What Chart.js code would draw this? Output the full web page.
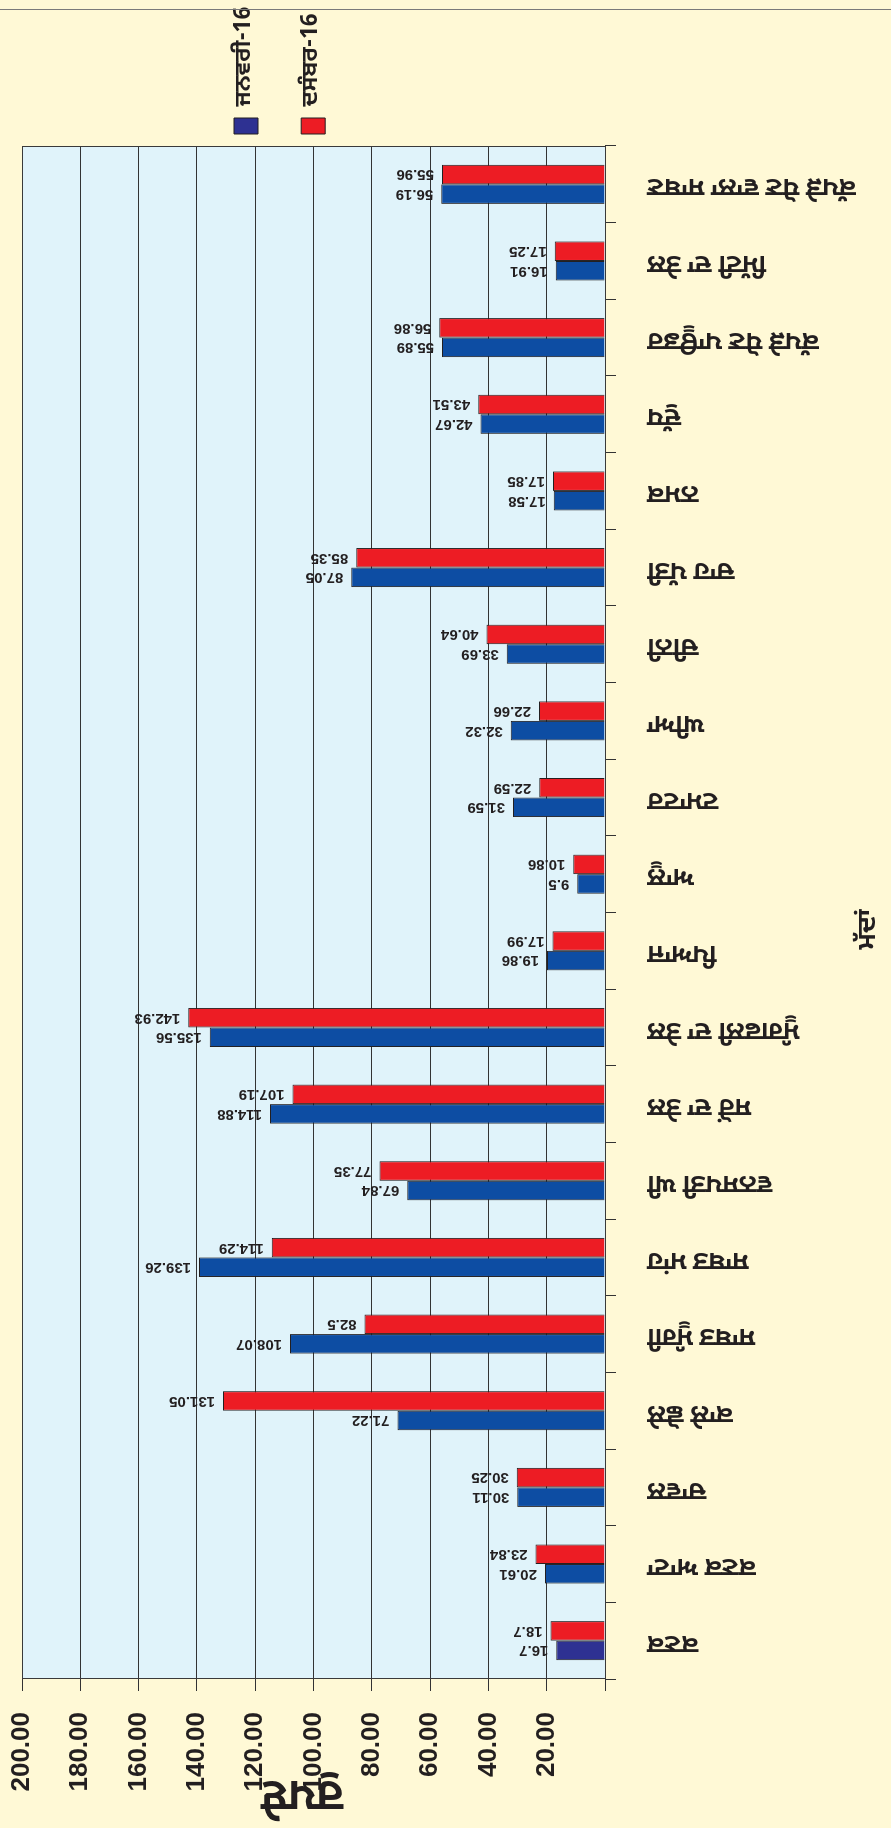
<!DOCTYPE html>
<html>
<head>
<meta charset="utf-8">
<script src="https://cdn.jsdelivr.net/npm/chart.js@4.4.1/dist/chart.umd.min.js"></script>
<style>
  html, body { margin: 0; padding: 0; background: #fff9d6; }
  body { width: 891px; height: 1828px; overflow: hidden; position: relative; }
  /* the chart is laid out lying on its side, then turned upright */
  #wrap { position: absolute; left: 0; top: 0; width: 1828px; height: 891px;
          transform-origin: 0 0; transform: translateY(1828px) rotate(-90deg); }
  #topline { position: absolute; left: 0; top: 9px; width: 891px; height: 1px; background: #7a7a7a; }
</style>
</head>
<body>
<div id="wrap"><canvas id="chart" width="1828" height="891"></canvas></div>
<div id="topline"></div>
<script>
const categories = [
    'ਕਣਕ', 'ਕਣਕ ਆਟਾ', 'ਚਾਵਲ', 'ਕਾਲੇ ਛੋਲੇ', 'ਸਾਬਤ ਮੂੰਗੀ', 'ਸਾਬਤ ਮਾਂਹ', 'ਵਨਸਪਤੀ ਘੀ',
    'ਸਰੋਂ ਦਾ ਤੇਲ', 'ਮੂੰਗਫਲੀ ਦਾ ਤੇਲ', 'ਪਿਆਜ', 'ਆਲੂ', 'ਟਮਾਟਰ', 'ਘੀਆ', 'ਚੀਨੀ',
    'ਚਾਹ ਪੱਤੀ', 'ਨਮਕ', 'ਦੁੱਧ', 'ਕੱਪੜੇ ਧੋਣ ਪਾਊਡਰ', 'ਮਿੱਟੀ ਦਾ ਤੇਲ', 'ਕੱਪੜੇ ਧੋਣ ਵਾਲਾ ਸਾਬਣ'
];
const seriesNames = ['ਜਨਵਰੀ-16', 'ਦਸੰਬਰ-16'];
const jan16 = [16.7, 20.61, 30.11, 71.22, 108.07, 139.26, 67.84, 114.88, 135.56, 19.86,
               9.5, 31.59, 32.32, 33.69, 87.05, 17.58, 42.67, 55.89, 16.91, 56.19];
const dec16 = [18.7, 23.84, 30.25, 131.05, 82.5, 114.29, 77.35, 107.19, 142.93, 17.99,
               10.86, 22.59, 22.66, 40.64, 85.35, 17.85, 43.51, 56.86, 17.25, 55.96];
const valueMax = 200;
const valueStep = 20;
const xTitle = 'ਮੱਦਾਂ';
const yTitle = 'ਰੁਪਏ';

const INK = '#231f20';
const GURMUKHI = "'Noto Sans Gurmukhi', 'Lohit Gurmukhi', 'Raavi', 'Noto Sans', sans-serif";
const NARROW = "'Liberation Sans Narrow', 'Arial Narrow', 'Liberation Sans', sans-serif";

// light blue plot area with a dark frame
const plotFrame = {
    id: 'plotFrame',
    beforeDraw(chart) {
        const { ctx, chartArea: a } = chart;
        ctx.save();
        ctx.fillStyle = '#e0f3fa';
        ctx.fillRect(a.left, a.top, a.width, a.height);
        ctx.restore();
    },
    afterDraw(chart) {
        const { ctx, chartArea: a } = chart;
        ctx.save();
        ctx.strokeStyle = '#3a3a3a';
        ctx.lineWidth = 1;
        ctx.strokeRect(a.left + 0.5, a.top + 0.5, a.width - 1, a.height);
        ctx.restore();
    }
};

// value written at the end of each bar, turned like the axis text
const barValues = {
    id: 'barValues',
    afterDatasetsDraw(chart) {
        const ctx = chart.ctx;
        ctx.save();
        ctx.font = 'bold 15px "Liberation Sans", Arial, sans-serif';
        ctx.fillStyle = INK;
        ctx.textAlign = 'left';
        ctx.textBaseline = 'middle';
        chart.data.datasets.forEach((ds, i) => {
            chart.getDatasetMeta(i).data.forEach((bar, j) => {
                ctx.save();
                ctx.translate(bar.x, bar.y - 8);
                ctx.rotate(-Math.PI / 2);
                ctx.fillText(String(ds.data[j]), 0, 0);
                ctx.restore();
            });
        });
        ctx.restore();
    }
};

new Chart(document.getElementById('chart'), {
    type: 'bar',
    data: {
        labels: categories,
        datasets: [
            {
                label: seriesNames[0],
                data: jan16,
                backgroundColor: c => (c.dataIndex === undefined || c.dataIndex === 0) ? '#2e3192' : '#0d4da3',
                borderColor: INK,
                borderWidth: 1
            },
            {
                label: seriesNames[1],
                data: dec16,
                backgroundColor: '#ed1c24',
                borderColor: INK,
                borderWidth: 1
            }
        ]
    },
    options: {
        responsive: false,
        animation: false,
        devicePixelRatio: 1,
        layout: { padding: { top: 22, left: 0, right: 0, bottom: 0 } },
        datasets: { bar: { categoryPercentage: 0.51, barPercentage: 1.0 } },
        scales: {
            x: {
                offset: true,
                grid: { offset: true, drawOnChartArea: false, drawTicks: true, tickLength: 11, color: '#333' },
                border: { color: '#333' },
                ticks: {
                    autoSkip: false, minRotation: 90, maxRotation: 90, padding: 31,
                    color: INK, font: { family: GURMUKHI, size: 26, weight: 'bold' }
                },
                title: {
                    display: true, text: xTitle + '     ', color: INK,
                    font: { family: GURMUKHI, size: 26, weight: 'bold' },
                    padding: { top: 0, bottom: 5 }
                },
                afterFit(s) { s.height = 286; }
            },
            y: {
                min: 0,
                max: valueMax,
                grid: { color: '#333', tickLength: 12 },
                border: { color: '#333' },
                ticks: {
                    stepSize: valueStep, padding: 21, color: INK,
                    font: { family: NARROW, size: 26, weight: 'bold' },
                    callback: v => v === 0 ? '' : v.toFixed(2)
                },
                title: {
                    display: true, text: '  ' + yTitle, color: INK,
                    font: { family: GURMUKHI, size: 44, weight: 'bold' },
                    padding: { top: 12, bottom: 0 }
                },
                afterFit(s) {
                    s.width = 149;
                    s.paddingTop = 0;
                }
            }
        },
        plugins: {
            legend: {
                position: 'right',
                align: 'start',
                fullSize: false,
                maxWidth: 146,
                title: { display: true, text: ' ', padding: { top: 188, bottom: 0 }, font: { size: 10 } },
                labels: {
                    boxWidth: 16, boxHeight: 24, padding: 12, color: INK,
                    font: { family: GURMUKHI, size: 23, weight: 'bold' },
                    // a blank second line gives each entry the taller row of the original
                    generateLabels(chart) {
                        return Chart.defaults.plugins.legend.labels.generateLabels(chart)
                            .map(item => Object.assign(item, { text: [item.text, ''] }));
                    }
                }
            },
            tooltip: { enabled: false }
        }
    },
    plugins: [plotFrame, barValues]
});
</script>
</body>
</html>
